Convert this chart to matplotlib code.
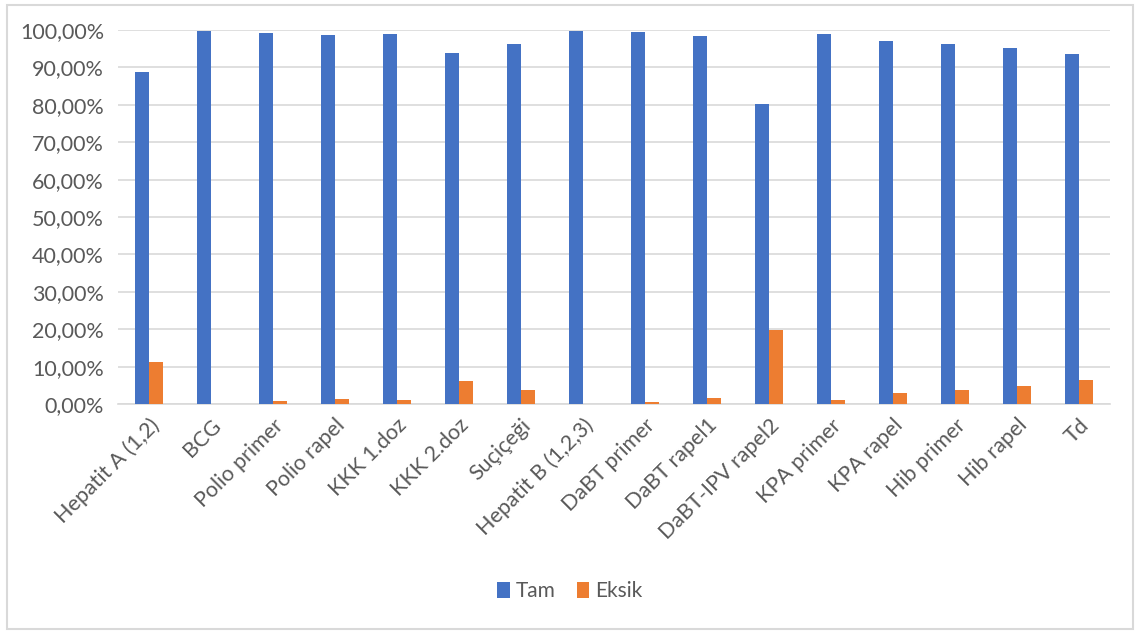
import numpy as np
import matplotlib
matplotlib.use("Agg")
import matplotlib.pyplot as plt
from matplotlib.ticker import FuncFormatter
from matplotlib.patches import Rectangle

plt.rcParams['font.family'] = ['Lato', 'DejaVu Sans']

categories = ["Hepatit A (1,2)", "BCG", "Polio primer", "Polio rapel", "KKK 1.doz",
              "KKK 2.doz", "Suçiçeği", "Hepatit B (1,2,3)", "DaBT primer", "DaBT rapel1",
              "DaBT-IPV rapel2", "KPA primer", "KPA rapel", "Hib primer", "Hib rapel", "Td"]
tam = [88.8, 99.7, 99.2, 98.7, 98.9, 93.9, 96.3, 99.7, 99.5, 98.4,
       80.2, 98.9, 97.1, 96.2, 95.2, 93.6]
eksik = [11.2, 0.0, 0.8, 1.3, 1.1, 6.1, 3.7, 0.0, 0.5, 1.6,
         19.8, 1.1, 2.9, 3.8, 4.8, 6.4]

grey = "#595959"
fig = plt.figure(figsize=(11.4, 6.34), dpi=100)
# outer chart border
fig.patches.append(Rectangle((0.006, 0.008), 0.988, 0.984, transform=fig.transFigure,
                             fill=False, edgecolor="#d9d9d9", linewidth=1.5))
ax = fig.add_axes([118/1140, 1 - 404/634, (1110-118)/1140, (404-30)/634])

x = np.arange(len(categories))
w = 0.22
ax.bar(x - w/2, tam, w, color="#4472c4", label="Tam", zorder=3)
ax.bar(x + w/2, eksik, w, color="#ed7d31", label="Eksik", zorder=3)

ax.set_ylim(0, 100)
ax.set_xlim(-0.5, len(categories) - 0.5)
ax.set_yticks(np.arange(0, 101, 10))
ax.yaxis.set_major_formatter(FuncFormatter(lambda v, p: f"{v:.2f}".replace(".", ",") + "%"))
ax.grid(axis="y", color="#d9d9d9", linewidth=1.2, zorder=0)
for s in ["top", "right", "left"]:
    ax.spines[s].set_visible(False)
ax.spines["bottom"].set_color("#d9d9d9")
ax.spines["bottom"].set_linewidth(1.2)
ax.tick_params(axis="both", length=0, colors=grey, labelsize=15.5)
ax.tick_params(axis="y", pad=10)
ax.set_xticks(x)
ax.set_xticklabels(categories, rotation=45, ha="right", rotation_mode="anchor")
ax.tick_params(axis="x", pad=8)

fig.legend(loc="center", bbox_to_anchor=(0.5, 1 - 591/634), ncol=2, frameon=False,
           fontsize=15, labelcolor=grey, handlelength=0.6, handleheight=0.8,
           columnspacing=1.0, handletextpad=0.3)

fig.savefig("out.png", dpi=100)
